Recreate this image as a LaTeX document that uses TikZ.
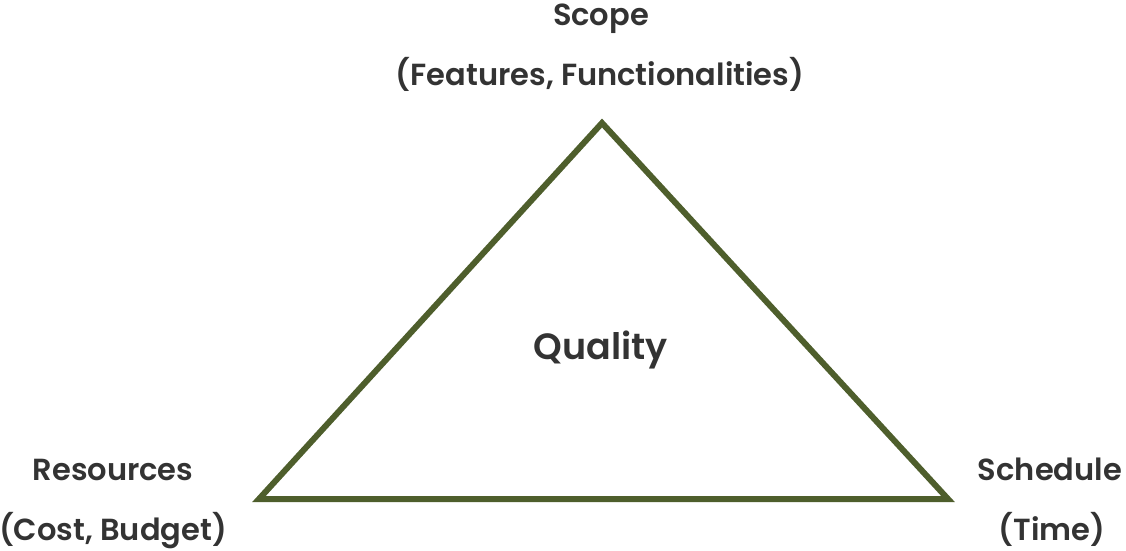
\documentclass[tikz,border=0pt]{standalone}
\usepackage{fontspec}
\setmainfont{Poppins}[BoldFont={Poppins SemiBold}]
\definecolor{olive}{HTML}{4E5E2C}
\definecolor{txt}{HTML}{333333}
\begin{document}
\begin{tikzpicture}[x=1pt,y=1pt,
  lbl/.style={anchor=base,inner sep=0pt,text=txt,font=\bfseries\fontsize{30.5}{34}\selectfont},
  big/.style={anchor=base,inner sep=0pt,text=txt,font=\bfseries\fontsize{36.5}{42}\selectfont}]
\useasboundingbox (0,0) rectangle (1126,550);
\coordinate (top) at (602,427);
\coordinate (bl) at (259,51);
\coordinate (br) at (948,51);
\draw[olive,line width=6pt,line join=miter] (top) -- (br) -- (bl) -- cycle;
\node[lbl] (scope) at (601,524) {Scope};
\node[lbl] (feat) at (600,464) {(Features, Functionalities)};
\node[big] (qual) at (601,191) {Quality};
\node[lbl] (res) at (113,70) {Resources};
\node[lbl] (cost) at (113,10) {(Cost, Budget)};
\node[lbl] (sched) at (1050,70) {Schedule};
\node[lbl] (time) at (1052,10) {(Time)};
\end{tikzpicture}
\end{document}
